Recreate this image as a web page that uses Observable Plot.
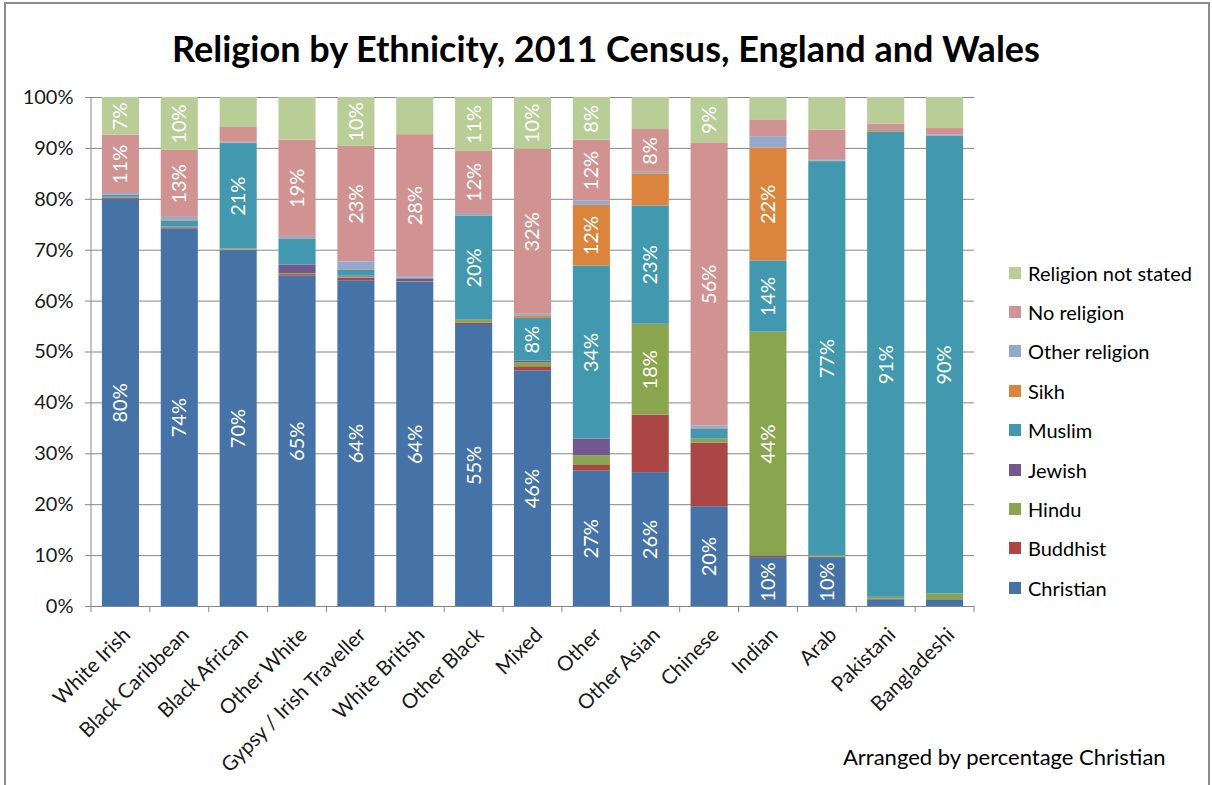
<!DOCTYPE html>
<html><head><meta charset="utf-8">
<script src="https://cdn.jsdelivr.net/npm/d3@7"></script>
<script src="https://cdn.jsdelivr.net/npm/@observablehq/plot@0.6"></script>
<style>
body{margin:0;background:#fff;font-family:Lato, sans-serif;width:1212px;height:785px;overflow:hidden;position:relative;}
#frame{position:absolute;left:4px;top:2px;width:1206px;height:820px;border:2px solid #8c8c8c;box-sizing:border-box;}
#title{position:absolute;left:0;top:27px;width:1212px;text-align:center;font-size:36px;line-height:42px;font-weight:bold;color:#000;}
#chart{position:absolute;left:0;top:80px;}
#legend{position:absolute;left:1009px;top:253px;}
.item{display:flex;align-items:center;height:39.4px;font-size:20px;color:#000;}
.sw{width:12px;height:12px;margin-right:7px;}
#caption{position:absolute;left:843px;top:744px;font-size:22px;line-height:26px;color:#000;}
</style>
</head><body>
<div id="frame"></div>
<div id="title">Religion by Ethnicity, 2011 Census, England and Wales</div>
<div id="chart"></div>
<div id="legend"></div>
<div id="caption">Arranged by percentage Christian</div>
<script>
const ethnicities = ["White Irish","Black Caribbean","Black African","Other White","Gypsy / Irish Traveller","White British","Other Black","Mixed","Other","Other Asian","Chinese","Indian","Arab","Pakistani","Bangladeshi"];
const religions = ["Christian","Buddhist","Hindu","Jewish","Muslim","Sikh","Other religion","No religion","Religion not stated"];
const colors = ["#4572A7","#AA4643","#89A54E","#71588F","#4198AF","#DB843D","#93A9CF","#D19392","#B9CD96"];
const yTicks = [0,10,20,30,40,50,60,70,80,90,100];

// percentages, in ethnicity order
const christian  = [80.0,74.2,69.9,64.9,64.0,63.7,55.4,46.3,26.6,26.3,19.6,9.6,9.6,1.3,1.3];
const buddhist   = [0.2,0.2,0.1,0.3,0.5,0.1,0.3,0.8,1.1,11.3,12.5,0.3,0.1,0.1,0.05];
const hindu      = [0.1,0.1,0.2,0.2,0.2,0.05,0.5,0.8,1.9,17.8,0.7,44.0,0.3,0.4,1.1];
const jewish     = [0.1,0.05,0.05,1.7,0.2,0.5,0.1,0.3,3.3,0.1,0.1,0.0,0.0,0.0,0.0];
const muslim     = [0.4,1.2,20.7,5.1,1.2,0.1,20.4,8.4,34.0,23.2,2.0,14.0,77.4,91.4,90.0];
const sikh       = [0.05,0.1,0.05,0.1,0.1,0.05,0.1,0.4,11.9,6.3,0.1,22.2,0.1,0.3,0.05];
const otherRel   = [0.3,0.6,0.2,0.4,1.5,0.3,0.4,0.4,0.9,0.3,0.5,2.2,0.3,0.2,0.1];
const noReligion = [11.45,13.15,2.9,18.9,22.7,27.9,12.2,32.4,11.9,8.4,55.6,3.3,5.8,1.1,1.3];
const notStated  = [7.4,10.4,5.9,8.4,9.6,7.3,10.6,10.2,8.4,6.3,8.9,4.4,6.4,5.2,6.1];

// which segments carry a value label
const labelled = [
  "White Irish|Christian","White Irish|No religion","White Irish|Religion not stated",
  "Black Caribbean|Christian","Black Caribbean|No religion","Black Caribbean|Religion not stated",
  "Black African|Christian","Black African|Muslim",
  "Other White|Christian","Other White|No religion",
  "Gypsy / Irish Traveller|Christian","Gypsy / Irish Traveller|No religion","Gypsy / Irish Traveller|Religion not stated",
  "White British|Christian","White British|No religion",
  "Other Black|Christian","Other Black|Muslim","Other Black|No religion","Other Black|Religion not stated",
  "Mixed|Christian","Mixed|Muslim","Mixed|No religion","Mixed|Religion not stated",
  "Other|Christian","Other|Muslim","Other|Sikh","Other|No religion","Other|Religion not stated",
  "Other Asian|Christian","Other Asian|Hindu","Other Asian|Muslim","Other Asian|No religion",
  "Chinese|Christian","Chinese|No religion","Chinese|Religion not stated",
  "Indian|Christian","Indian|Hindu","Indian|Muslim","Indian|Sikh",
  "Arab|Christian","Arab|Muslim",
  "Pakistani|Muslim","Bangladeshi|Muslim"
];

const series = [christian,buddhist,hindu,jewish,muslim,sikh,otherRel,noReligion,notStated];
const labelSet = new Set(labelled);
const rows = ethnicities.flatMap((e,i)=>religions.map((r,j)=>({
  ethnicity:e, religion:r, value:series[j][i],
  label: labelSet.has(e+"|"+r) ? Math.round(series[j][i])+"%" : ""
})));

const chart = Plot.plot({
  width:990, height:705, marginTop:17, marginBottom:179, marginLeft:91, marginRight:16,
  style:{fontFamily:"Lato, sans-serif", fontSize:"20px", color:"#1a1a1a", background:"transparent"},
  x:{domain:ethnicities, paddingInner:0.37, paddingOuter:0.185, round:false, label:null},
  y:{domain:[0,100], label:null},
  color:{domain:religions, range:colors},
  marks:[
    Plot.ruleY(yTicks,{stroke:"#878787", strokeWidth:1}),
    Plot.barY(rows,{x:"ethnicity", y:"value", fill:"religion"}),
    Plot.text(rows, Plot.stackY({x:"ethnicity", y:"value", text:"label", rotate:-90, fill:"white", fontSize:20})),
    Plot.axisY({ticks:yTicks, tickFormat:d=>d+"%", label:null, tickSize:6, tickPadding:12, fontSize:20}),
    Plot.axisX({label:null, tickRotate:-45, tickSize:0, tickPadding:25, dx:6, fontSize:20.5})
  ]
});
document.getElementById("chart").appendChild(chart);

// axis lines and category-boundary ticks, derived from the scales
const svg = d3.select(chart);
const xs = chart.scale("x"), ys = chart.scale("y");
const [r0, r1] = xs.range;
const yb = ys.range[0], yt = ys.range[1];
const step = (r1 - r0) / ethnicities.length;
svg.append("line").attr("x1",r0).attr("x2",r0).attr("y1",yt).attr("y2",yb).attr("stroke","#878787");
for (let i = 0; i <= ethnicities.length; i++) {
  const x = r0 + i*step;
  svg.append("line").attr("x1",x).attr("x2",x).attr("y1",yb).attr("y2",yb+6).attr("stroke","#878787");
}
svg.selectAll('g[aria-label="y-axis tick"] path').attr("stroke","#878787");

// legend
const legend = d3.select("#legend");
religions.slice().reverse().forEach(r=>{
  const it = legend.append("div").attr("class","item");
  it.append("div").attr("class","sw").style("background", colors[religions.indexOf(r)]);
  it.append("span").text(r);
});
</script>
</body></html>
